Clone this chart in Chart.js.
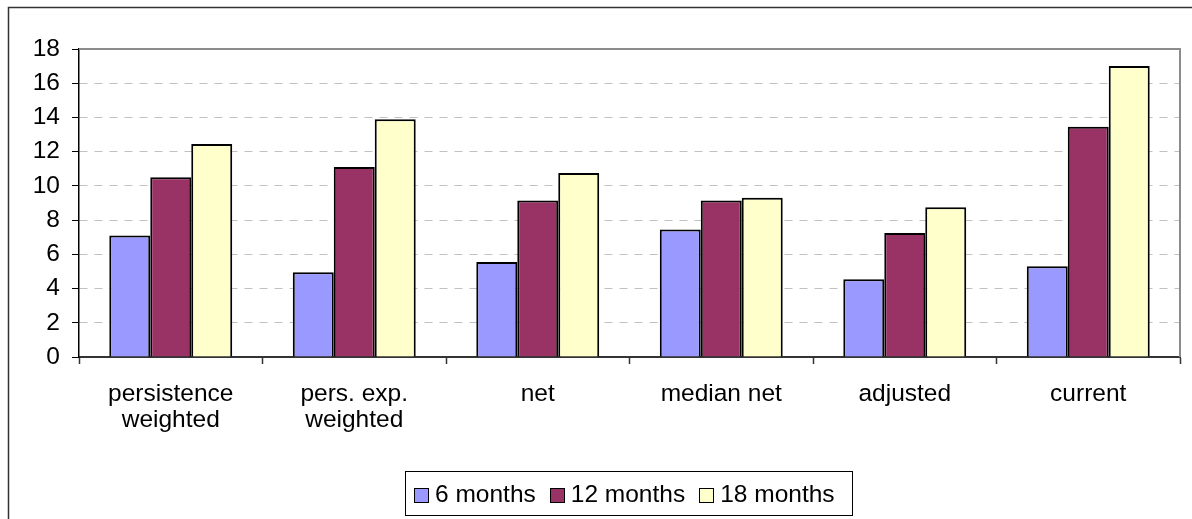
<!DOCTYPE html>
<html>
<head>
<meta charset="utf-8">
<script src="https://cdn.jsdelivr.net/npm/chart.js@4/dist/chart.umd.min.js"></script>
<style>
  html, body { margin: 0; padding: 0; background: #fff; }
  #wrap { position: relative; width: 1192px; height: 519px; overflow: hidden; }
  #legend {
    position: absolute; left: 405px; top: 471px; width: 438px; height: 43px;
    border: 1px solid #000; display: flex; align-items: center; padding-left: 8px;
    box-sizing: content-box;
    font-family: "Liberation Sans", Arial, sans-serif; font-size: 24.5px; color: #000;
  }
  #legend .item { display: flex; align-items: center; margin-right: 14px; }
  #legend .box { width: 13px; height: 13px; border: 1px solid #000; margin-right: 6px; margin-top: 3px; }
</style>
</head>
<body>
<div id="wrap">
  <canvas id="chart" width="1192" height="519"></canvas>
  <div id="legend"></div>
</div>
<script>
const categories = [
  ['persistence', 'weighted'],
  ['pers. exp.', 'weighted'],
  'net',
  'median net',
  'adjusted',
  'current'
];
const seriesNames = ['6 months', '12 months', '18 months'];
const sixMonths = [7.1, 4.95, 5.55, 7.45, 4.55, 5.3];
const twelveMonths = [10.5, 11.1, 9.15, 9.15, 7.25, 13.45];
const eighteenMonths = [12.45, 13.9, 10.75, 9.3, 8.75, 17.0];
const yTicks = [0, 2, 4, 6, 8, 10, 12, 14, 16, 18];

const colors = ['#9999ff', '#993366', '#ffffcc'];
const font = { family: '"Liberation Sans", Arial, sans-serif', size: 24.5 };

// frame round the whole chart and the plot area border, as Excel draws them
const frames = {
  id: 'frames',
  beforeDraw(chart) {
    const ctx = chart.ctx;
    ctx.save();
    ctx.strokeStyle = '#333';
    ctx.lineWidth = 1.5;
    ctx.beginPath();
    ctx.moveTo(8.5, chart.height);
    ctx.lineTo(8.5, 7.5);
    ctx.lineTo(chart.width, 7.5);
    ctx.stroke();
    ctx.restore();
  },
  afterDatasetsDraw(chart) {
    const { ctx, chartArea: a } = chart;
    ctx.save();
    ctx.strokeStyle = '#8c8c8c';
    ctx.lineWidth = 2;
    ctx.beginPath();
    ctx.moveTo(a.left, a.top);
    ctx.lineTo(a.right, a.top);
    ctx.lineTo(a.right, a.bottom);
    ctx.stroke();
    ctx.restore();
  }
};

const chart = new Chart(document.getElementById('chart'), {
  type: 'bar',
  data: {
    labels: categories,
    datasets: [sixMonths, twelveMonths, eighteenMonths].map((values, i) => ({
      label: seriesNames[i],
      data: values,
      backgroundColor: colors[i],
      borderColor: '#000',
      borderWidth: 2,
      barPercentage: 1.0,
      categoryPercentage: 0.67
    }))
  },
  options: {
    responsive: false,
    animation: false,
    devicePixelRatio: 1,
    layout: { padding: { top: 49, right: 12, left: 0, bottom: 82 } },
    plugins: {
      legend: { display: false },
      tooltip: { enabled: false }
    },
    scales: {
      x: {
        afterFit: (s) => { s.height = 80; },
        grid: {
          offset: true,
          drawOnChartArea: false,
          tickLength: 7,
          tickColor: '#333',
          tickWidth: 1.5
        },
        border: { color: '#333', width: 2 },
        ticks: { color: '#000', font: { ...font, lineHeight: 1.06 }, padding: 17, maxRotation: 0 }
      },
      y: {
        min: 0,
        max: 18,
        afterFit: (s) => { s.width = 79; },
        afterBuildTicks: (s) => { s.ticks = yTicks.map(v => ({ value: v })); },
        grid: {
          color: '#c0c0c0',
          lineWidth: 1,
          tickLength: 7,
          tickColor: '#000',
          tickWidth: 1
        },
        border: { color: '#000', width: 1.5, dash: [8, 7] },
        ticks: { color: '#000', font, padding: 12 }
      }
    }
  },
  plugins: [frames]
});

const legend = document.getElementById('legend');
chart.data.datasets.forEach(ds => {
  const item = document.createElement('div');
  item.className = 'item';
  const box = document.createElement('span');
  box.className = 'box';
  box.style.background = ds.backgroundColor;
  const text = document.createElement('span');
  text.textContent = ds.label;
  item.appendChild(box);
  item.appendChild(text);
  legend.appendChild(item);
});
</script>
</body>
</html>
